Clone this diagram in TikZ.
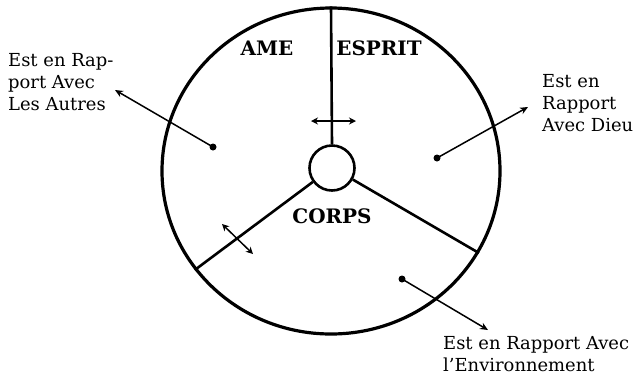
\documentclass[tikz,border=0pt]{standalone}
\usepackage{fontspec}
\setmainfont{DejaVu Serif}
\usetikzlibrary{arrows.meta,shapes.geometric}
\begin{document}
\begin{tikzpicture}[x=1bp,y=-1bp,
  ring/.style={draw, ellipse, line width=3.2bp, inner sep=0pt, minimum width=338bp, minimum height=326bp},
  hubc/.style={draw, circle, line width=2.6bp, inner sep=0pt, minimum size=45bp},
  spoke/.style={line width=2.6bp},
  rel/.style={line width=1.5bp, -{Stealth[length=8bp,width=7bp]}},
  twoway/.style={line width=1.5bp, {Stealth[length=7bp,width=7bp]}-{Stealth[length=7bp,width=7bp]}},
  dot/.style={circle, fill, inner sep=0pt, minimum size=7bp},
  lbl/.style={font=\fontsize{18}{22}\selectfont, align=left, inner sep=0pt, anchor=north west},
  part/.style={font=\fontsize{20}{24}\selectfont\bfseries, inner sep=0pt}]
\useasboundingbox (0,0) rectangle (639,377);
\node[ring] (big) at (331,171) {};
\node[hubc] (hub) at (332,168) {};
\draw[spoke] (hub.north) -- (big.north);
\draw[spoke] (hub.216) -- (big.216);
\draw[spoke] (hub.331) -- (big.331);
\node[part] (ame) at (267,48.5) {AME};
\node[part] (esprit) at (379,48.5) {ESPRIT};
\node[part] (corps) at (332,216.5) {CORPS};
\coordinate (ta) at (311,121);
\coordinate (tb) at (356,121);
\draw[twoway] (ta) -- (tb);
\coordinate (la) at (222,224);
\coordinate (lb) at (253,254);
\draw[twoway] (la) -- (lb);
\node[dot] (d1) at (213,147) {};
\node[dot] (d2) at (437,158) {};
\node[dot] (d3) at (402,279) {};
\coordinate (e1) at (115,90);
\coordinate (e2) at (528,107);
\coordinate (e3) at (488,330);
\draw[rel] (d1.center) -- (e1);
\draw[rel] (d2.center) -- (e2);
\draw[rel] (d3.center) -- (e3);
\node[lbl] (t1) at (8,53) {Est en Rap-\\port Avec\\Les Autres};
\node[lbl] (t2) at (542,74) {Est en\\Rapport\\Avec Dieu};
\node[lbl] (t3) at (443,336) {Est en Rapport Avec\\l’Environnement};
\end{tikzpicture}
\end{document}
